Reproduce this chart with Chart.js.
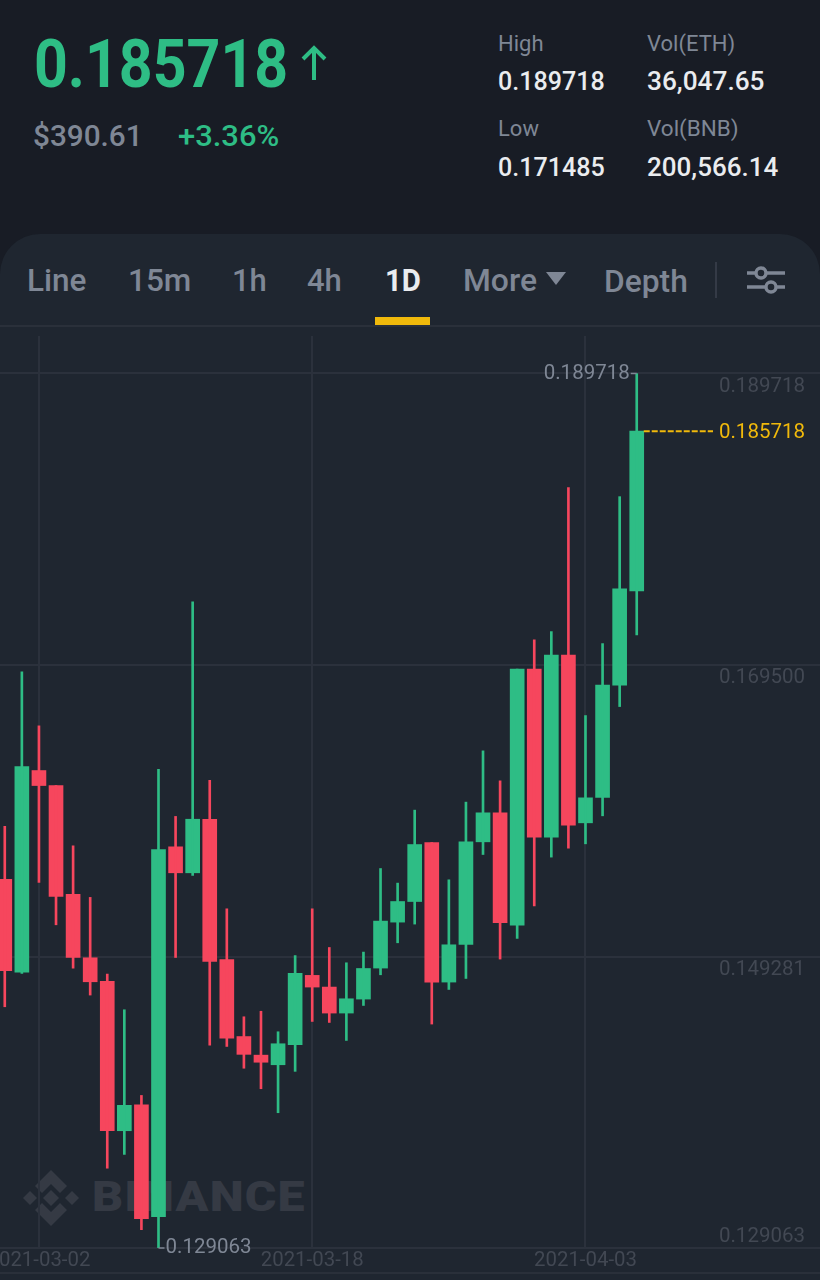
<!DOCTYPE html>
<html>
<head>
<meta charset="utf-8">
<script src="https://cdn.jsdelivr.net/npm/chart.js@4"></script>
<style>
    html, body { margin: 0; padding: 0; background: #181c25; }
    body { position: relative; width: 820px; height: 1280px; overflow: hidden; font-family: Roboto, sans-serif; }
    #panel { position: absolute; left: 0; top: 234px; width: 820px; height: 1046px; background: #1f2630; border-radius: 40px 40px 0 0; }
    #tab-line { position: absolute; left: 0; top: 325px; width: 820px; height: 2px; background: #2a303a; }
    #tab-mark { position: absolute; left: 375px; top: 317px; width: 55px; height: 8px; background: #f0b90b; }
    #tab-sep { position: absolute; left: 715px; top: 262px; width: 2px; height: 36px; background: #343a46; }
    #foot-line { position: absolute; left: 0; top: 1272px; width: 820px; height: 2px; background: #2a303a; }
    .t { position: absolute; white-space: nowrap; line-height: 1; transform-origin: left center; }
    .icon { position: absolute; }
    #wm-text { color: #353a44; font-weight: 900; letter-spacing: 1px; }
    #chart-box { position: absolute; left: 0; top: 326px; width: 820px; height: 954px; }
</style>
</head>
<body>
<div id="panel"></div>
<div id="tab-line"></div>
<div id="tab-mark"></div>
<div id="tab-sep"></div>
<div id="foot-line"></div>

<!-- watermark sits under the canvas so the candles cover it -->
<svg class="icon" style="left:23px;top:1170px" width="56" height="56" viewBox="0 0 56 56" fill="#353a44">
    <path d="M28 0 L44 16 L37 23 L28 14 L19 23 L12 16 Z"/>
    <path d="M28 56 L44 40 L37 33 L28 42 L19 33 L12 40 Z"/>
    <path d="M7 21 L14 28 L7 35 L0 28 Z"/>
    <path d="M49 21 L56 28 L49 35 L42 28 Z"/>
    <path d="M28 20 L36 28 L28 36 L20 28 Z"/>
</svg>
<div class="t" id="wm-text" data-x="92" data-y="1197" data-size="42" data-w="214">BINANCE</div>

<div class="t" data-x="34" data-y="65" data-size="66" data-w="254" data-color="#2ebd85" data-weight="700">0.185718</div>
<svg class="icon" style="left:300px;top:45px" width="28" height="36" viewBox="0 0 28 36" fill="none" stroke="#2ebd85" stroke-width="4">
    <path d="M14 35 V3 M3 14 L14 3 L25 14"/>
</svg>
<div class="t" data-x="33" data-y="136" data-size="30" data-w="110" data-color="#7f8795" data-weight="500">$390.61</div>
<div class="t" data-x="178" data-y="136" data-size="30" data-w="101" data-color="#2ebd85" data-weight="500">+3.36%</div>

<div class="t" data-x="498" data-y="44" data-size="22" data-w="46" data-color="#7f8795">High</div>
<div class="t" data-x="647" data-y="44" data-size="22" data-w="88" data-color="#7f8795">Vol(ETH)</div>
<div class="t" data-x="498" data-y="81" data-size="26" data-w="107" data-color="#eaecef" data-weight="500">0.189718</div>
<div class="t" data-x="647" data-y="81" data-size="26" data-w="117" data-color="#eaecef" data-weight="500">36,047.65</div>
<div class="t" data-x="498" data-y="129" data-size="22" data-w="41" data-color="#7f8795">Low</div>
<div class="t" data-x="647" data-y="129" data-size="22" data-w="92" data-color="#7f8795">Vol(BNB)</div>
<div class="t" data-x="498" data-y="167" data-size="26" data-w="107" data-color="#eaecef" data-weight="500">0.171485</div>
<div class="t" data-x="647" data-y="167" data-size="26" data-w="131" data-color="#eaecef" data-weight="500">200,566.14</div>

<div class="t" data-x="27" data-y="280" data-size="31" data-w="60" data-color="#7f8795" data-weight="500">Line</div>
<div class="t" data-x="128" data-y="280" data-size="31" data-w="63" data-color="#7f8795" data-weight="500">15m</div>
<div class="t" data-x="232" data-y="280" data-size="31" data-w="35" data-color="#7f8795" data-weight="500">1h</div>
<div class="t" data-x="307" data-y="280" data-size="31" data-w="35" data-color="#7f8795" data-weight="500">4h</div>
<div class="t" data-x="385" data-y="280" data-size="31" data-w="36" data-color="#eaecef" data-weight="700">1D</div>
<div class="t" data-x="463" data-y="280" data-size="31" data-w="74" data-color="#7f8795" data-weight="500">More</div>
<svg class="icon" style="left:546px;top:272px" width="20" height="14" viewBox="0 0 20 14" fill="#7f8795"><path d="M0 0 H20 L10 13 Z"/></svg>
<div class="t" data-x="604" data-y="281" data-size="31" data-w="84" data-color="#7f8795" data-weight="500">Depth</div>
<svg class="icon" style="left:746px;top:265px" width="40" height="30" viewBox="0 0 40 30" fill="none" stroke="#7f8795" stroke-width="3.4">
    <path d="M1 8 H10 M20 8 H39 M1 22 H20 M30 22 H39"/>
    <circle cx="15" cy="8" r="5"/><circle cx="25" cy="22" r="5"/>
</svg>

<div id="chart-box"><canvas id="kline"></canvas></div>

<script>
    // One entry per daily candle, oldest first
    const dates = [
        "2021-02-28", "2021-03-01", "2021-03-02", "2021-03-03", "2021-03-04", "2021-03-05", "2021-03-06", "2021-03-07",
        "2021-03-08", "2021-03-09", "2021-03-10", "2021-03-11", "2021-03-12", "2021-03-13", "2021-03-14", "2021-03-15",
        "2021-03-16", "2021-03-17", "2021-03-18", "2021-03-19", "2021-03-20", "2021-03-21", "2021-03-22", "2021-03-23",
        "2021-03-24", "2021-03-25", "2021-03-26", "2021-03-27", "2021-03-28", "2021-03-29", "2021-03-30", "2021-03-31",
        "2021-04-01", "2021-04-02", "2021-04-03", "2021-04-04", "2021-04-05", "2021-04-06",
    ];
    const opens = [
        0.154635, 0.148193, 0.162179, 0.161139, 0.153595, 0.149192, 0.147563, 0.137197,
        0.139000, 0.131234, 0.156888, 0.155086, 0.158802, 0.149075, 0.143729, 0.142439,
        0.141773, 0.143160, 0.147972, 0.147161, 0.145358, 0.146328, 0.148478, 0.151666,
        0.153095, 0.157186, 0.147507, 0.150114, 0.157235, 0.159246, 0.151459, 0.169209,
        0.157561, 0.170180, 0.158552, 0.160307, 0.168100, 0.174638,
    ];
    const highs = [
        0.158310, 0.169022, 0.165278, 0.161139, 0.156958, 0.153380, 0.148062, 0.145587,
        0.139644, 0.162262, 0.158996, 0.173875, 0.161492, 0.152589, 0.145101, 0.145483,
        0.144061, 0.149345, 0.152589, 0.149906, 0.148845, 0.149587, 0.155383, 0.154371,
        0.159433, 0.157186, 0.154600, 0.159988, 0.163544, 0.161464, 0.169209, 0.171241,
        0.171816, 0.181800, 0.165992, 0.170984, 0.181176, 0.189718,
    ];
    const lows = [
        0.145795, 0.148110, 0.154420, 0.151480, 0.148471, 0.146606, 0.134597, 0.135554,
        0.130333, 0.129063, 0.149213, 0.154912, 0.143125, 0.143042, 0.141531, 0.140109,
        0.138445, 0.141315, 0.144776, 0.144706, 0.143458, 0.145885, 0.148013, 0.150232,
        0.151529, 0.144595, 0.146994, 0.147757, 0.156355, 0.149102, 0.150530, 0.152797,
        0.156174, 0.156798, 0.157096, 0.159038, 0.166616, 0.171587,
    ];
    const closes = [
        0.148305, 0.162449, 0.161139, 0.153456, 0.149213, 0.147528, 0.137197, 0.138957,
        0.131096, 0.156694, 0.155086, 0.158802, 0.148936, 0.143617, 0.142494, 0.141947,
        0.143229, 0.148110, 0.147161, 0.145358, 0.146349, 0.148450, 0.151737, 0.153095,
        0.157047, 0.147507, 0.150093, 0.157235, 0.159246, 0.151619, 0.169209, 0.157561,
        0.170180, 0.158393, 0.160286, 0.168100, 0.174777, 0.185718,
    ];
    const priceTicks = [0.189718, 0.1695, 0.149281, 0.129063];
    const dateTickIndexes = [2, 18, 34];
    const lastPrice = 0.185718;

    const UP = "#2ebd85";
    const DOWN = "#f6465d";
    const GRID = "#2b313c";
    const AXIS_TEXT = "#424853";
    const NOTE_TEXT = "#7f8795";
    const FONT = "Roboto, sans-serif";

    // Position the header text and squeeze it to the narrow width of the app font
    document.querySelectorAll(".t").forEach((el) => {
        const d = el.dataset;
        el.style.fontSize = d.size + "px";
        el.style.left = d.x + "px";
        el.style.top = (d.y - d.size / 2) + "px";
        if (d.color) el.style.color = d.color;
        if (d.weight) el.style.fontWeight = d.weight;
        el.style.transform = `scaleX(${d.w / el.offsetWidth})`;
    });

    const candleColor = (ctx) => (closes[ctx.dataIndex] >= opens[ctx.dataIndex] ? UP : DOWN);

    // Labels the axis can't place by itself: price ticks hang under their lines,
    // high/low notes, last price line
    const priceNotes = {
        id: "priceNotes",
        afterDatasetsDraw(chart) {
            const { ctx, scales: { x, y } } = chart;
            const hiIdx = highs.indexOf(Math.max(...highs));
            const loIdx = lows.indexOf(Math.min(...lows));
            ctx.save();
            ctx.font = `20.5px ${FONT}`;
            ctx.textBaseline = "middle";

            // price ticks, the bottom one sits above its line
            ctx.fillStyle = AXIS_TEXT;
            ctx.textAlign = "right";
            priceTicks.forEach((tick, i) => {
                const dy = i === priceTicks.length - 1 ? -11 : 13;
                ctx.fillText(tick.toFixed(6), 805, y.getPixelForValue(tick) + dy);
            });

            ctx.strokeStyle = NOTE_TEXT;
            ctx.lineWidth = 1.5;
            ctx.fillStyle = NOTE_TEXT;
            const hx = x.getPixelForValue(hiIdx);
            const hy = y.getPixelForValue(highs[hiIdx]);
            ctx.beginPath();
            ctx.moveTo(hx, hy);
            ctx.lineTo(hx - 6, hy);
            ctx.stroke();
            ctx.textAlign = "right";
            ctx.fillText(highs[hiIdx].toFixed(6), hx - 7, hy);

            const lx = x.getPixelForValue(loIdx);
            const ly = y.getPixelForValue(lows[loIdx]);
            ctx.beginPath();
            ctx.moveTo(lx, ly);
            ctx.lineTo(lx + 6, ly);
            ctx.stroke();
            ctx.textAlign = "left";
            ctx.fillText(lows[loIdx].toFixed(6), lx + 7, ly);

            // last price
            const py = y.getPixelForValue(lastPrice);
            ctx.strokeStyle = "#f0b90b";
            ctx.lineWidth = 2;
            ctx.setLineDash([6, 2]);
            ctx.beginPath();
            ctx.moveTo(x.getPixelForValue(closes.length - 1) + 7, py);
            ctx.lineTo(713, py);
            ctx.stroke();
            ctx.setLineDash([]);
            ctx.fillStyle = "#f0b90b";
            ctx.textAlign = "right";
            ctx.fillText(lastPrice.toFixed(6), 805, py + 1.5);
            ctx.restore();
        },
    };

    new Chart(document.getElementById("kline"), {
        type: "bar",
        data: {
            datasets: [
                {
                    label: "High-Low",
                    data: dates.map((d, i) => ({ x: i, y: [lows[i], highs[i]] })),
                    backgroundColor: candleColor,
                    barThickness: 2,
                    grouped: false,
                },
                {
                    label: "Open-Close",
                    data: dates.map((d, i) => ({ x: i, y: [opens[i], closes[i]] })),
                    backgroundColor: candleColor,
                    barThickness: 14,
                    grouped: false,
                },
            ],
        },
        options: {
            responsive: true,
            maintainAspectRatio: false,
            animation: false,
            layout: { padding: { top: 10 } },
            plugins: { legend: { display: false }, tooltip: { enabled: false } },
            scales: {
                x: {
                    type: "linear",
                    offset: false,
                    min: -0.28,
                    max: 47.73,
                    border: { display: false },
                    grid: { color: GRID, lineWidth: 2, offset: false, drawTicks: false },
                    afterBuildTicks: (scale) => {
                        scale.ticks = dateTickIndexes.map((value) => ({ value }));
                    },
                    afterFit: (scale) => {
                        // the first label runs off the left edge in the app, so no padding for it
                        scale.paddingLeft = 0;
                        scale.paddingRight = 0;
                        scale.height = 32;
                    },
                    ticks: {
                        autoSkip: false,
                        maxRotation: 0,
                        padding: 1,
                        color: AXIS_TEXT,
                        font: { family: FONT, size: 20.4 },
                        callback: (value) => dates[value],
                    },
                },
                y: {
                    position: "right",
                    min: 0.129063,
                    max: 0.192318,
                    border: { display: false },
                    grid: { color: GRID, lineWidth: 2, drawTicks: false },
                    afterBuildTicks: (scale) => {
                        scale.ticks = priceTicks.map((value) => ({ value }));
                    },
                    afterFit: (scale) => {
                        scale.width = 0;
                        scale.paddingTop = 0;
                        scale.paddingBottom = 0;
                    },
                    // labels are drawn by priceNotes
                    ticks: { display: false },
                },
            },
        },
        plugins: [priceNotes],
    });
</script>
</body>
</html>
